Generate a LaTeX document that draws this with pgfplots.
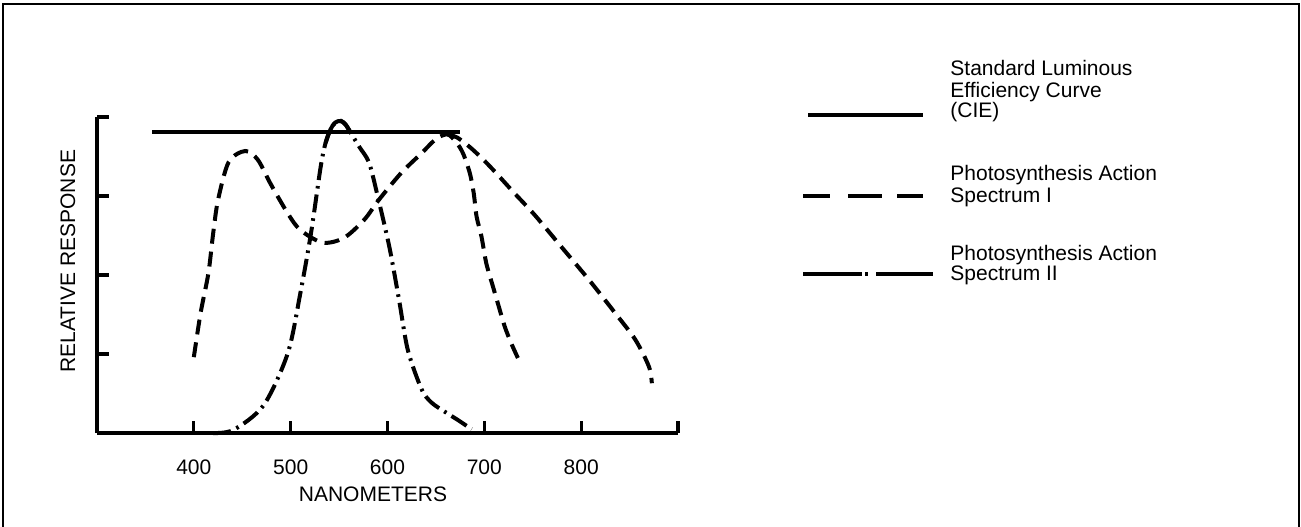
\documentclass[border=0pt]{standalone}
\usepackage{fontspec}
\setmainfont{Liberation Sans}
\usepackage{pgfplots}
\pgfplotsset{compat=1.18}
\usepackage{pgfplotstable}
\newcommand\lbl{\fontsize{10.5}{10.5}\selectfont}

\pgfplotstableread{
x y
400 0.96
407 1.52
415 2.02
420 2.53
425 2.95
436 3.43
453 3.57
466 3.46
479 3.16
497 2.78
510 2.57
533 2.41
555 2.47
576 2.70
591 2.95
614 3.29
635 3.54
650 3.72
662 3.78
671 3.68
678 3.54
685 3.29
689 3.04
692 2.74
697 2.49
702 2.15
709 1.85
714 1.64
721 1.35
728 1.13
735 0.94
}\specIa

\pgfplotstableread{
x y
662 3.78
672 3.74
685 3.62
699 3.46
713 3.28
730 3.05
752 2.76
780 2.35
808 1.94
835 1.52
856 1.18
870 0.84
873 0.63
}\specIb

\pgfplotstableread{
x y
420 0.00
441 0.04
472 0.35
497 1.01
510 1.77
521 2.53
531 3.37
536 3.67
541 3.84
546 3.93
552 3.95
557 3.90
562 3.80
571 3.62
581 3.42
590 2.99
602 2.35
612 1.68
621 1.05
635 0.56
645 0.39
659 0.27
672 0.17
683 0.08
687 0.05
}\specII

\pgfplotstableread{
x y
536 3.67
541 3.84
546 3.93
552 3.95
557 3.90
562 3.80
}\specIIpeak

\pgfplotstableread{
x y
357 3.81
675 3.81
}\cie

\begin{document}
\begin{tikzpicture}
\useasboundingbox (0,0) rectangle (650.5pt,263pt);
% frame
\draw[line width=1.1pt] (1.5pt,-5pt) -- (1.5pt,261pt) -- (649.5pt,261pt) -- (649.5pt,-5pt);
\begin{axis}[
  at={(48.5pt,46.5pt)}, anchor=south west,
  scale only axis, width=290.5pt, height=158pt,
  xmin=300, xmax=900, ymin=0, ymax=4,
  clip=false,
  axis lines*=left,
  axis line style={-, line width=1.8pt, black},
  xtick={400,500,600,700,800,900},
  xticklabels={400,500,600,700,800,{}},
  ytick={1,2,3,4}, yticklabels={},
  tick align=inside, major tick length=6pt,
  tick style={line width=1.6pt, black},
  /pgf/number format/assume math mode=true,
  xticklabel style={font=\lbl, anchor=center, yshift=-17pt},
  xlabel={NANOMETERS},
  xlabel style={font=\lbl, at={(axis description cs:0.475,-0.193)}, anchor=center},
  ylabel={RELATIVE RESPONSE},
  ylabel style={font=\lbl, at={(axis description cs:-0.0499,0.544)}, anchor=center},
]
\addplot[black, line width=2pt] table {\cie};
\addplot[black, line width=2pt, smooth, tension=0.5, dash pattern=on 7.5pt off 4pt] table {\specIa};
\addplot[black, line width=2pt, smooth, tension=0.5, dash pattern=on 7.5pt off 4pt] table {\specIb};
\addplot[black, line width=2pt, smooth, tension=0.5, dash pattern=on 9pt off 3pt on 1.3pt off 3pt] table {\specII};
\addplot[black, line width=2pt, smooth, tension=0.5] table {\specIIpeak};
\end{axis}
% legend
\draw[line width=1.6pt] (404pt,205.5pt) -- (461.5pt,205.5pt);
\draw[line width=1.6pt, dash pattern=on 13.5pt off 9pt on 17pt off 7.5pt on 13pt] (401.5pt,165pt) -- (461.5pt,165pt);
\draw[line width=1.6pt, dash pattern=on 29.5pt off 1.5pt on 1.5pt off 4pt on 28.5pt] (401.5pt,126pt) -- (467.5pt,126pt);
\begin{scope}[every node/.style={anchor=base west, inner sep=0pt, font=\lbl}]
\node at (475pt,225.25pt) {Standard Luminous};
\node at (475pt,214.25pt) {Efficiency Curve};
\node at (475pt,204.25pt) {(CIE)};
\node at (475pt,172.75pt) {Photosynthesis Action};
\node at (475pt,161.75pt) {Spectrum I};
\node at (475pt,132.75pt) {Photosynthesis Action};
\node at (475pt,122.75pt) {Spectrum II};
\end{scope}
\end{tikzpicture}
\end{document}
